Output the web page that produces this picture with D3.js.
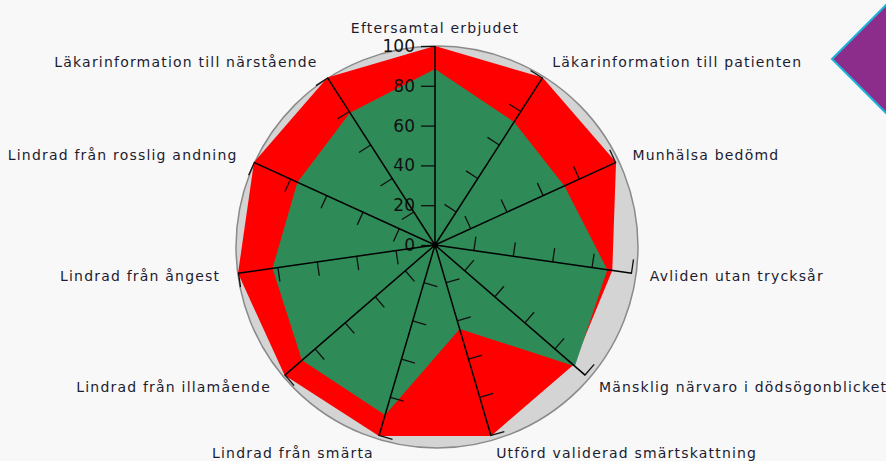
<!DOCTYPE html>
<html>
<head>
<meta charset="utf-8">
<script src="https://cdn.jsdelivr.net/npm/d3@7"></script>
<style>
  body { margin: 0; background: #f8f8f8; }
  svg { display: block; }
</style>
</head>
<body>
<script>
const width = 886;
const height = 461;

// categories, clockwise from the top
const categories = [
    "Eftersamtal erbjudet",
    "Läkarinformation till patienten",
    "Munhälsa bedömd",
    "Avliden utan trycksår",
    "Mänsklig närvaro i dödsögonblicket",
    "Utförd validerad smärtskattning",
    "Lindrad från smärta",
    "Lindrad från illamående",
    "Lindrad från ångest",
    "Lindrad från rosslig andning",
    "Läkarinformation till närstående"
];
// red area (back) and green area (front)
const redValues = [100, 100, 100, 90, 92, 100, 100, 100, 100, 100, 100];
const greenValues = [88.5, 73.5, 71.5, 87.5, 93, 44, 89, 88.5, 82.5, 76, 79];
const tickValues = [0, 20, 40, 60, 80, 100];

const cx = 435, cy = 245;

const svg = d3.select('body').append('svg')
    .attr('width', width)
    .attr('height', height);

// purple corner badge
svg.append('path')
    .attr('d', 'M832,59 L891,0 L950,59 L891,118 Z')
    .attr('fill', '#8c2d8c')
    .attr('stroke', '#1db4dc')
    .attr('stroke-width', 2);

const r = d3.scaleLinear().domain([0, 100]).range([0, 199]);
const angle = d3.scaleLinear().domain([0, categories.length]).range([0, 2 * Math.PI]);

const g = svg.append('g').attr('transform', `translate(${cx},${cy})`);

// gray backdrop circle
g.append('circle')
    .attr('cx', 2).attr('cy', 2)
    .attr('r', r(101))
    .attr('fill', '#d4d4d4')
    .attr('stroke', '#8a8a8a')
    .attr('stroke-width', 1.5);

const radial = d3.lineRadial()
    .angle((d, i) => angle(i))
    .radius(d => r(d))
    .curve(d3.curveLinearClosed);

g.append('path')
    .datum(redValues)
    .attr('fill', '#ff0000')
    .attr('d', radial);

g.append('path')
    .datum(greenValues)
    .attr('fill', '#2e8b57')
    .attr('d', radial);

// axes, one per category, rotated around the centre
const yAxisScale = d3.scaleLinear().domain([0, 100]).range([0, -r(100)]);

categories.forEach(function(c, i) {
    const ax = g.append('g')
        .attr('transform', `rotate(${angle(i) * 180 / Math.PI})`)
        .call(d3.axisLeft(yAxisScale)
            .tickValues(i == 0 ? tickValues : tickValues.slice(1))
            .tickSize(14)
            .tickPadding(6)
            .tickFormat(i == 0 ? d3.format('d') : ''));
    ax.select('.domain').remove();
    ax.append('line')
        .attr('y1', 0).attr('y2', yAxisScale(100))
        .attr('stroke', '#000')
        .attr('stroke-width', 1.5);
    ax.selectAll('.tick line').attr('stroke', '#111').attr('stroke-width', 1.3);
    ax.selectAll('.tick text')
        .attr('fill', '#111')
        .style('font-family', 'DejaVu Sans')
        .style('font-size', '17px');
});

g.append('circle').attr('r', 3).attr('fill', '#000');

// category labels
g.selectAll('.cat')
    .data(categories)
    .enter().append('text')
    .attr('class', 'cat')
    .attr('x', (d, i) => Math.sin(angle(i)) * 217)
    .attr('y', (d, i) => -Math.cos(angle(i)) * 217)
    .attr('dy', '0.35em')
    .attr('text-anchor', function(d, i) {
        const s = Math.sin(angle(i));
        if (Math.abs(s) < 0.01) return 'middle';
        return s > 0 ? 'start' : 'end';
    })
    .attr('fill', '#1c1c30')
    .style('font-family', 'DejaVu Sans')
    .style('font-size', '14px')
    .style('letter-spacing', '1.2px')
    .text(d => d);
</script>
</body>
</html>
